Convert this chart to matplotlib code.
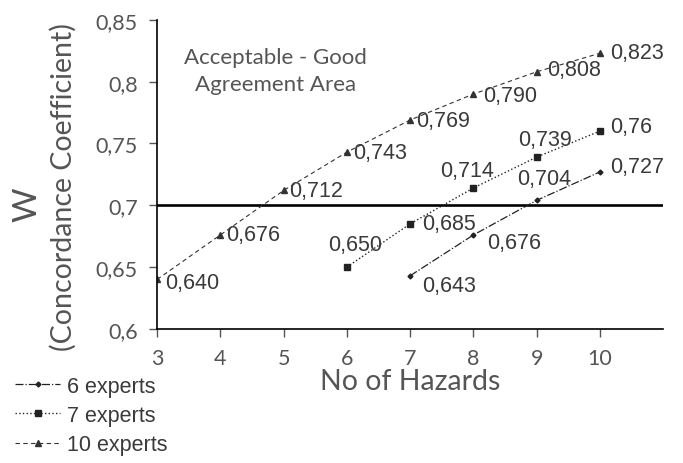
import matplotlib
matplotlib.use("Agg")
from matplotlib import pyplot as plt
from matplotlib.ticker import FuncFormatter

# data
x6 = [7, 8, 9, 10]
w6 = [0.643, 0.676, 0.704, 0.727]
lab6 = ["0,643", "0,676", "0,704", "0,727"]

x7 = [6, 7, 8, 9, 10]
w7 = [0.650, 0.685, 0.714, 0.739, 0.76]
lab7 = ["0,650", "0,685", "0,714", "0,739", "0,76"]

x10 = [3, 4, 5, 6, 7, 8, 9, 10]
w10 = [0.640, 0.676, 0.712, 0.743, 0.769, 0.790, 0.808, 0.823]
lab10 = ["0,640", "0,676", "0,712", "0,743", "0,769", "0,790", "0,808", "0,823"]

xticks = [3, 4, 5, 6, 7, 8, 9, 10]
yticks = [0.6, 0.65, 0.7, 0.75, 0.8, 0.85]

# label offsets in pixels (dx, dy, ha)
off6 = [(12, -10, "left"), (14, -8, "left"), (8, 22, "center"), (10, 5, "left")]
off7 = [(8, 23, "center"), (12, 0, "left"), (-6, 17, "center"), (8, 18, "center"), (10, 5, "left")]
off10 = [(8, -3, "left"), (6, 0, "left"), (6, 0, "left"), (6, 0, "left"),
         (6, 0, "left"), (10, -1, "left"), (10, 2, "left"), (10, 1, "left")]

sans = ["Lato", "DejaVu Sans"]
arial = ["Liberation Sans", "DejaVu Sans"]
grey = "#3a3a3a"
tgrey = "#555555"

fig = plt.figure(figsize=(6.83, 4.64), dpi=100)
ax = fig.add_axes([0.23, 0.289, 0.741, 0.666])

ax.plot(x6, w6, linestyle="-.", color="#222222", lw=0.9, marker="D", ms=2.5, label="6 experts")
ax.plot(x7, w7, linestyle=":", color="#222222", lw=1.0, marker="s", ms=4, label="7 experts")
ax.plot(x10, w10, linestyle=(0, (4, 3)), color="#333333", lw=0.8, marker="^", ms=4.5, label="10 experts")

ax.axhline(0.7, color="black", lw=1.9, zorder=1)

for xs, ws, labs, offs in [(x6, w6, lab6, off6), (x7, w7, lab7, off7), (x10, w10, lab10, off10)]:
    for xv, wv, lb, (dx, dy, ha) in zip(xs, ws, labs, offs):
        ax.annotate(lb, (xv, wv), xytext=(dx, dy), textcoords="offset pixels",
                    ha=ha, va="center", fontsize=15.5, family=arial, color=grey)

ax.text(4.87, 0.809, "Acceptable - Good\nAgreement Area", ha="center", va="center",
        fontsize=16, family=sans, color=tgrey, linespacing=1.4)

ax.set_xlim(3, 11)
ax.set_ylim(0.6, 0.85)
ax.set_xticks(xticks)
ax.set_yticks(yticks)
ax.yaxis.set_major_formatter(FuncFormatter(lambda v, p: ("%g" % v).replace(".", ",")))
for s in ["top", "right"]:
    ax.spines[s].set_visible(False)
for s in ["left", "bottom"]:
    ax.spines[s].set_linewidth(1.2)
ax.tick_params(direction="out", length=6, width=1, colors="#555555", labelcolor=tgrey, pad=8)
for t in ax.get_xticklabels() + ax.get_yticklabels():
    t.set_fontsize(15.5)
    t.set_family(sans)

ax.set_xlabel("No of Hazards", fontsize=20.5, family=sans, color=tgrey, labelpad=0)
fig.text(0.04, 0.558, "W", rotation=90, ha="center", va="center", fontsize=24,
         family=sans, color=tgrey)
fig.text(0.092, 0.597, "(Concordance Coefficient)", rotation=90, ha="center", va="center",
         fontsize=20.5, family=sans, color=tgrey)

fig.legend(loc="upper left", bbox_to_anchor=(0.022, 0.188), frameon=False,
           prop={"family": arial, "size": 15.5}, handlelength=2.1, handletextpad=0.3,
           labelspacing=0.38, borderaxespad=0, borderpad=0.0, labelcolor=grey)

fig.savefig("out.png", dpi=100)
